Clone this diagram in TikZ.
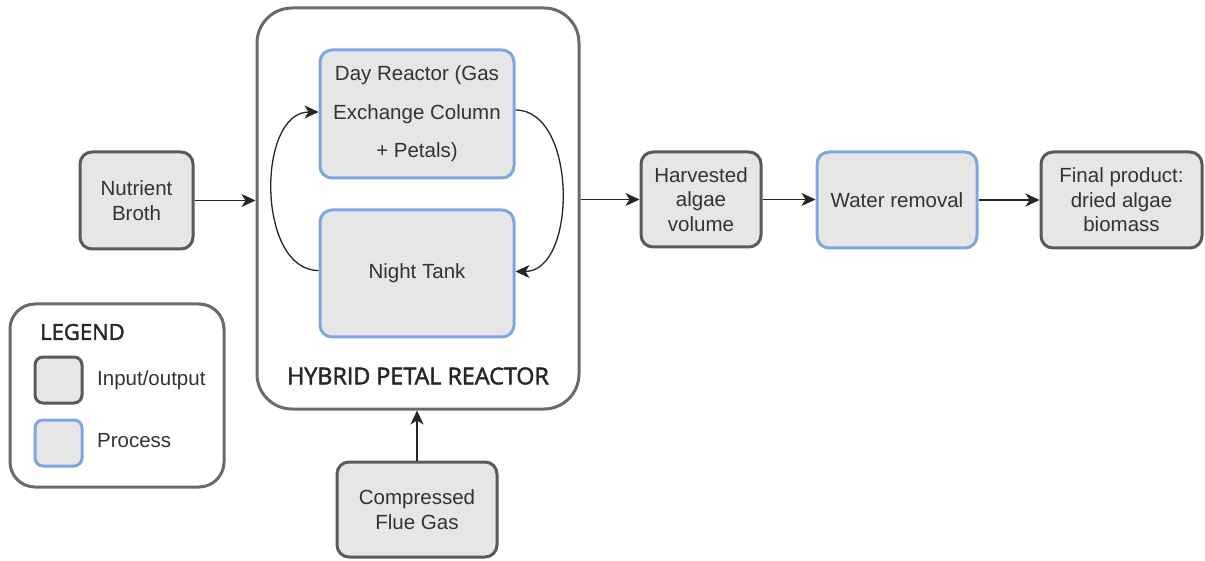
\documentclass[tikz,border=0pt]{standalone}
\usepackage{fontspec}
\setmainfont{Liberation Sans}
\newfontfamily\headfont{Open Sans}[FakeBold=2]
\usetikzlibrary{arrows.meta,positioning}
\definecolor{boxfill}{HTML}{E6E6E6}
\definecolor{iodraw}{HTML}{5A5A5A}
\definecolor{procdraw}{HTML}{7EA6E0}
\definecolor{outerdraw}{HTML}{6A6A6A}
\definecolor{txt}{HTML}{333333}
\tikzset{
  base/.style={rounded corners=12pt, line width=3pt, fill=boxfill, align=center, text=txt,
    font=\fontsize{20.5}{24.5}\selectfont, inner sep=0pt},
  iobox/.style={base, draw=iodraw},
  procbox/.style={base, draw=procdraw},
  container/.style={draw=outerdraw, line width=3pt, fill=white, inner sep=0pt},
  flow/.style={line width=1.3pt, draw=black!85, -{Stealth[length=14pt,width=13pt,inset=4pt]}},
  headtext/.style={font=\headfont\fontsize{22}{26}\selectfont, text=black!85, inner sep=0pt}
}
\begin{document}
\begin{tikzpicture}[x=1pt,y=-1pt]
\useasboundingbox (0,0) rectangle (1205,561);
% legend
\node[container, rounded corners=25pt, minimum width=214pt, minimum height=183pt] (legend) at (117,395.5) {};
\node[headtext, anchor=west] (legendtitle) at (40,332) {LEGEND};
\node[iobox, rounded corners=8pt, minimum width=47pt, minimum height=46pt] (legio) at (58.5,380) {};
\node[procbox, rounded corners=8pt, minimum width=47pt, minimum height=46pt] (legproc) at (58.5,443) {};
\node[anchor=west, text=txt, font=\fontsize{20.5}{24}\selectfont, inner sep=0pt] (legiotext) at (97,380) {Input/output};
\node[anchor=west, text=txt, font=\fontsize{20.5}{24}\selectfont, inner sep=0pt] (legproctext) at (97,441) {Process};
% reactor
\node[container, rounded corners=35pt, minimum width=322pt, minimum height=401pt] (reactor) at (418,208.5) {};
\node[headtext, font=\headfont\fontsize{23.3}{27}\selectfont] (reactorlabel) at (418,376) {HYBRID PETAL REACTOR};
\node[procbox, minimum width=194pt, minimum height=128pt, font=\fontsize{20.5}{38.5}\selectfont] (day) at (417,114) {Day Reactor (Gas\\Exchange Column\\+ Petals)};
\node[procbox, minimum width=194pt, minimum height=127pt] (night) at (417,273.5) {Night Tank};
% other boxes
\node[iobox, minimum width=113pt, minimum height=97pt] (broth) at (136.5,200.5) {Nutrient\\Broth};
\node[iobox, minimum width=120pt, minimum height=95pt] (harvest) at (701,199.5) {Harvested\\algae\\volume};
\node[procbox, minimum width=160pt, minimum height=96pt] (water) at (897,200) {Water removal};
\node[iobox, minimum width=161pt, minimum height=96pt] (final) at (1121.5,200) {Final product:\\dried algae\\biomass};
\node[iobox, minimum width=160pt, minimum height=95pt] (flue) at (417,509.5) {Compressed\\Flue Gas};
% connectors
\draw[flow] (broth.east) -- (broth.east -| reactor.west);
\draw[flow] (harvest.west -| reactor.east) -- (harvest.west);
\draw[flow] (harvest.east) -- (harvest.east -| water.west);
\draw[flow] (water.east) -- (water.east -| final.west);
\draw[flow] (flue.north) -- (flue.north |- reactor.south);
\draw[flow] ([yshift=3pt]night.west) to[out=180,in=180,distance=62pt] ([yshift=2pt]day.west);
\draw[flow] ([yshift=4pt]day.east) to[out=0,in=0,distance=62pt] ([yshift=2pt]night.east);
\end{tikzpicture}
\end{document}
